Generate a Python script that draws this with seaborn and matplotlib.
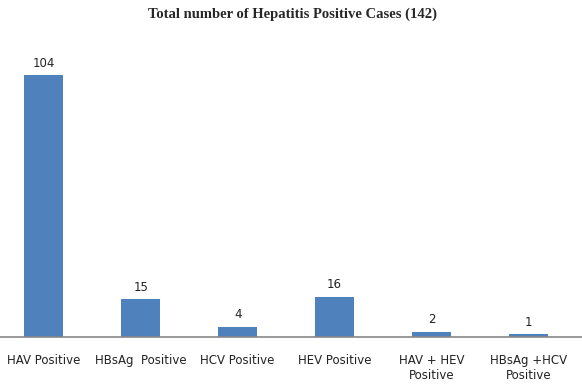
import pandas as pd
import seaborn as sns
import matplotlib.pyplot as plt

# Data
categories = ["HAV Positive", "HBsAg  Positive", "HCV Positive", "HEV Positive",
              "HAV + HEV\nPositive", "HBsAg +HCV\nPositive"]
cases = [104, 15, 4, 16, 2, 1]

df = pd.DataFrame({"category": categories, "cases": cases})

sns.set_theme(style="white")
plt.rcParams['font.family'] = ['DejaVu Sans']

fig = plt.figure(figsize=(5.82, 3.88), dpi=100)
ax = fig.add_axes([0, 51 / 388, 1, 302 / 388])

sns.barplot(data=df, x="category", y="cases", color="#4f81bd",
            width=0.4, saturation=1, linewidth=0, ax=ax)

ax.set_xlim(-0.45, 5.55)
ax.set_ylim(0, 120)

for p in ax.patches:
    ax.annotate(f"{int(p.get_height())}",
                (p.get_x() + p.get_width() / 2, p.get_height()),
                xytext=(0, 4), textcoords="offset points",
                ha="center", va="bottom", fontsize=8.5, color="#222222")

ax.set_xlabel("")
ax.set_ylabel("")
ax.set_yticks([])
ax.tick_params(axis="x", length=0, pad=12, labelsize=8.5, colors="#222222")
for lab in ax.get_xticklabels():
    lab.set_verticalalignment("top")

for s in ["top", "right", "left"]:
    ax.spines[s].set_visible(False)
ax.spines["bottom"].set_color("#888888")
ax.spines["bottom"].set_linewidth(1.2)

fig.text(0.502, 0.962, "Total number of Hepatitis Positive Cases (142)",
         ha="center", va="center", fontsize=10.5, fontweight="bold",
         family="Liberation Serif")

plt.savefig("out.png", dpi=100)
